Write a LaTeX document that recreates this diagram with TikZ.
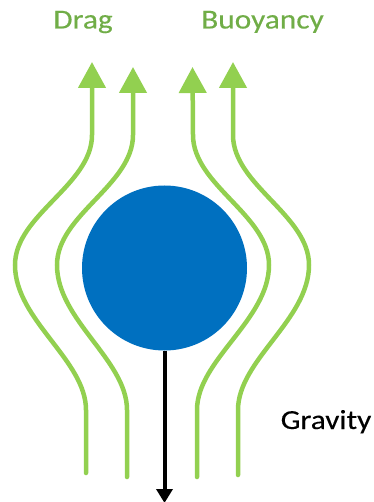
\documentclass[tikz,border=0pt]{standalone}
\usepackage{fontspec}
\usetikzlibrary{arrows.meta}
\newfontfamily\lblfont[FakeStretch=1.14,FakeBold=0.3]{Carlito}
\definecolor{flowgreen}{RGB}{146,208,80}
\definecolor{textgreen}{RGB}{112,173,71}
\definecolor{ballblue}{RGB}{0,112,192}
\begin{document}
\begin{tikzpicture}[x=1pt,y=-1pt,
  stream/.style={draw=flowgreen,line width=4.5pt,line cap=round,
     -{Triangle[width=27pt,length=26pt]}},
  lbl/.style={inner sep=0pt,font=\lblfont\fontsize{27.5}{31}\selectfont},
  ball/.style={circle,fill=ballblue,minimum size=165pt,inner sep=0pt},
  force/.style={draw=black,line width=4pt,-{Triangle[width=16pt,length=14pt]}}]
\useasboundingbox (0,0) rectangle (373,502);
% ball
\node[ball] (ball) at (164.5,268) {};
% streamlines
\draw[stream] (86,473) -- (86,410) .. controls (86,360) and (15,320) .. (15,265)
   .. controls (15,215) and (92,185) .. (92,135) -- (92,62);
\draw[stream] (127,477) -- (127,410) .. controls (127,360) and (57,320) .. (57,265)
   .. controls (57,215) and (133,185) .. (133,135) -- (133,67);
\draw[stream] (197,477) -- (197,410) .. controls (197,360) and (269,320) .. (269,265)
   .. controls (269,215) and (193,185) .. (193,135) -- (192.5,67);
\draw[stream] (238,475) -- (238,410) .. controls (238,360) and (309,320) .. (309,265)
   .. controls (309,215) and (233,185) .. (233,135) -- (233,62);
% gravity arrow
\coordinate (gend) at (164.5,503);
\draw[force] (ball.south) -- (gend);
% labels
\node[lbl,text=textgreen,anchor=base] (drag) at (83,28.5) {Drag};
\node[lbl,text=textgreen,anchor=base] (buoy) at (262.5,28.5) {Buoyancy};
\node[lbl,text=black,anchor=base west] (grav) at (280.5,429) {Gravity};
\end{tikzpicture}
\end{document}
